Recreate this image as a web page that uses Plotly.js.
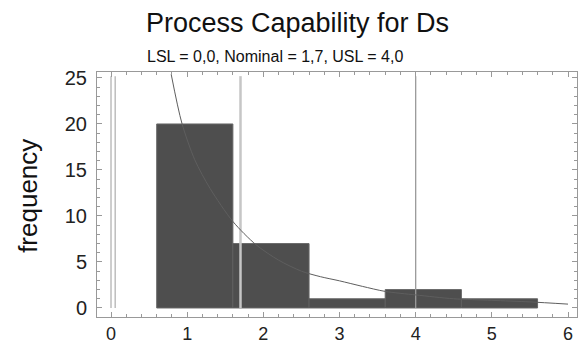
<!DOCTYPE html>
<html>
<head>
<meta charset="utf-8">
<script src="https://cdn.plot.ly/plotly-3.0.1.min.js"></script>
<style>html,body{margin:0;padding:0;background:#fff;}#chart{width:585px;height:345px;}</style>
</head>
<body>
<div id="chart"></div>
<script>
// Histogram bins (centres) and frequencies
const binCenters = [1.1, 2.1, 3.1, 4.1, 5.1];
const frequencies = [20, 7, 1, 2, 1];
// Fitted distribution curve
const curveX = [0.79, 0.93, 1.1, 1.3, 1.6, 1.9, 2.2, 2.5, 2.75, 3.0, 3.3, 3.6, 4.0, 4.5, 5.0, 5.5, 6.0];
const curveY = [25.4, 20.1, 16.1, 13.0, 9.4, 6.9, 5.2, 4.0, 3.4, 2.95, 2.35, 1.8, 1.42, 1.0, 0.83, 0.66, 0.42];
// Specification limits
const LSL = 0.0, NOMINAL = 1.7, USL = 4.0;
const specTop = 25.2;
const xTickVals = [0, 1, 2, 3, 4, 5, 6];
const yTickVals = [0, 5, 10, 15, 20, 25];

const vline = (x, color, width) => ({
  x: [x, x], y: [0, specTop], type: 'scatter', mode: 'lines',
  line: {color: color, width: width}, hoverinfo: 'skip', showlegend: false
});

const traces = [
  vline(LSL, '#bdbdbd', 1.5),
  vline(LSL + 0.055, '#bdbdbd', 1.5),
  vline(NOMINAL, '#c6c6c6', 2.5),
  vline(USL, '#9a9a9a', 1.3),
  {
    x: binCenters, y: frequencies, type: 'bar', width: 1,
    marker: {color: '#434343', opacity: 0.94, line: {color: '#5e5e5e', width: 1}},
    showlegend: false
  },
  {
    x: curveX, y: curveY, type: 'scatter', mode: 'lines',
    line: {color: '#5e5e5e', width: 1, shape: 'spline', smoothing: 0.8},
    showlegend: false
  }
];

const axisCommon = {
  showline: true, linecolor: '#999', linewidth: 1, mirror: 'ticks',
  ticks: 'inside', ticklen: 5, tickcolor: '#999', tickwidth: 1,
  showgrid: false, zeroline: false,
  tickfont: {family: 'Liberation Sans, Arial, sans-serif', size: 20, color: '#222'}
};

const layout = {
  width: 585, height: 345,
  margin: {l: 97, r: 8, t: 72, b: 28, pad: 0},
  paper_bgcolor: '#fff', plot_bgcolor: '#fff',
  showlegend: false,
  bargap: 0,
  xaxis: Object.assign({}, axisCommon, {
    range: [-0.184, 6.118], tickvals: xTickVals, ticklabelstandoff: 0,
    tickfont: {family: 'Liberation Sans, Arial, sans-serif', size: 18, color: '#222'},
    minor: {ticks: 'inside', dtick: 0.2, ticklen: 3, tickcolor: '#999'}
  }),
  yaxis: Object.assign({}, axisCommon, {
    range: [-0.98, 25.65], tickvals: yTickVals, ticklabelstandoff: 5,
    minor: {ticks: 'inside', dtick: 1, ticklen: 3, tickcolor: '#999'}
  }),
  annotations: [
    {text: 'Process Capability for Ds', xref: 'paper', yref: 'paper',
     x: 0.098, y: 1.2, xanchor: 'left', yanchor: 'middle', showarrow: false,
     font: {family: 'Liberation Sans, Arial, sans-serif', size: 27, color: '#111'}},
    {text: 'LSL = 0,0, Nominal = 1,7, USL = 4,0', xref: 'paper', yref: 'paper',
     x: 0.1, y: 1.062, xanchor: 'left', yanchor: 'middle', showarrow: false,
     font: {family: 'Liberation Sans, Arial, sans-serif', size: 16, color: '#111'}},
    {text: 'frequency', xref: 'paper', yref: 'paper',
     x: -0.144, y: 0.494, xanchor: 'center', yanchor: 'middle', textangle: -90, showarrow: false,
     font: {family: 'Liberation Sans, Arial, sans-serif', size: 26, color: '#111'}}
  ]
};

Plotly.newPlot('chart', traces, layout, {staticPlot: true, displayModeBar: false});
</script>
</body>
</html>
